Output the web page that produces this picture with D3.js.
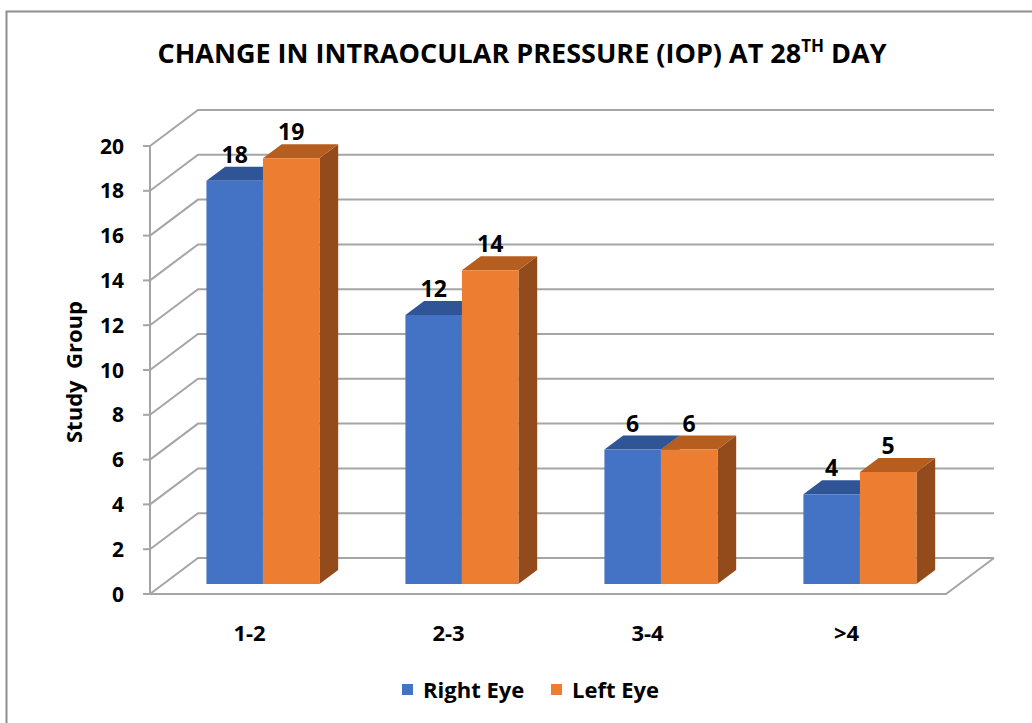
<!DOCTYPE html>
<html>
<head>
<meta charset="utf-8">
<script src="https://cdn.jsdelivr.net/npm/d3@7"></script>
<style>
  html, body { margin: 0; padding: 0; background: #fff; }
  svg { display: block; }
  text { font-family: "Open Sans", Lato, sans-serif; font-weight: bold; fill: #000; }
</style>
</head>
<body>
<svg id="chart" width="1032" height="723"></svg>
<script>
// ---- data ----
const categories = ["1-2", "2-3", "3-4", ">4"];
const seriesNames = ["Right Eye", "Left Eye"];
const rightEye = [18, 12, 6, 4];
const leftEye = [19, 14, 6, 5];
const yTicks = [0, 2, 4, 6, 8, 10, 12, 14, 16, 18, 20];

const colors = {
  "Right Eye": { front: "#4472C4", top: "#2F5597", side: "#2D5291" },
  "Left Eye":  { front: "#ED7D31", top: "#B55E20", side: "#944B1C" }
};
const gridColor = "#a5a5a5";

const svg = d3.select("#chart");

// border
svg.append("path")
  .attr("d", "M6.5,723 L6.5,11.5 L1032,11.5")
  .attr("fill", "none").attr("stroke", "#8e8e8e").attr("stroke-width", 2);

// ---- 3D geometry ----
const DX = 48, DY = 36;        // full depth offset of the plot box
const Z0 = 0.28, Z1 = 0.67;    // bar depth range
const y = d3.scaleLinear().domain([0, 20]).range([594, 146]);
const x0 = d3.scaleBand().domain(categories).range([150, 946]).paddingInner(0.432).paddingOuter(0.216);
const x1 = d3.scaleBand().domain(seriesNames).range([0, x0.bandwidth()]);
const xFull = d3.scaleBand().domain(categories).range([150, 946]);

const P = (xf, v, z) => [xf + z * DX, y(v) - z * DY];
const poly = pts => "M" + pts.map(p => p.join(",")).join("L") + "Z";

const grid = svg.append("g").attr("stroke", gridColor).attr("stroke-width", 2).attr("fill", "none");
// back wall lines and left wall diagonals
yTicks.forEach(v => {
  const a = P(150, v, 0), b = P(150, v, 1), c = P(946, v, 1);
  grid.append("path").attr("d", `M${a}L${b}L${c}`);
});
// floor
{
  const a = P(150, 0, 0), b = P(946, 0, 0), c = P(946, 0, 1);
  grid.append("path").attr("d", `M${a}L${b}L${c}`);
}
// front vertical axis + ticks
grid.append("line").attr("x1", 150).attr("x2", 150).attr("y1", y(0)).attr("y2", y(20));
yTicks.forEach(v => {
  grid.append("line").attr("x1", 143).attr("x2", 150).attr("y1", y(v)).attr("y2", y(v));
});

// y tick labels
svg.append("g").selectAll("text").data(yTicks).join("text")
  .attr("x", 124).attr("y", d => y(d)).attr("dy", "0.36em")
  .attr("text-anchor", "end").attr("font-size", 21).text(d => d);

// y axis title
svg.append("text")
  .attr("transform", "translate(82,372) rotate(-90)")
  .attr("text-anchor", "middle").attr("font-size", 22)
  .attr("textLength", 142).attr("lengthAdjust", "spacingAndGlyphs")
  .attr("xml:space", "preserve").text("Study  Group");

// category labels
svg.append("g").selectAll("text").data(categories).join("text")
  .attr("x", d => xFull(d) + xFull.bandwidth() / 2).attr("y", 641)
  .attr("text-anchor", "middle").attr("font-size", 22).text(d => d);

// ---- bars ----
const barData = [];
categories.forEach((c, i) => {
  barData.push({ cat: c, s: "Right Eye", v: rightEye[i] });
  barData.push({ cat: c, s: "Left Eye", v: leftEye[i] });
});
const bars = svg.append("g");
barData.forEach(d => {
  const xl = x0(d.cat) + x1(d.s), xr = xl + x1.bandwidth();
  const col = colors[d.s];
  // side
  bars.append("path").attr("fill", col.side)
    .attr("d", poly([P(xr, 0, Z0), P(xr, 0, Z1), P(xr, d.v, Z1), P(xr, d.v, Z0)]));
  // top
  bars.append("path").attr("fill", col.top)
    .attr("d", poly([P(xl, d.v, Z0), P(xl, d.v, Z1), P(xr, d.v, Z1), P(xr, d.v, Z0)]));
  // front
  bars.append("path").attr("fill", col.front)
    .attr("d", poly([P(xl, 0, Z0), P(xr, 0, Z0), P(xr, d.v, Z0), P(xl, d.v, Z0)]));
});
// data labels
svg.append("g").selectAll("text").data(barData).join("text")
  .attr("x", d => P(x0(d.cat) + x1(d.s) + x1.bandwidth() / 2, d.v, Z0)[0])
  .attr("y", d => P(0, d.v, Z0)[1] - 18)
  .attr("text-anchor", "middle").attr("font-size", 23).text(d => d.v);

// ---- title ----
const title = svg.append("text").attr("x", 522).attr("y", 63).attr("text-anchor", "middle").attr("font-size", 27);
title.append("tspan").text("CHANGE IN INTRAOCULAR PRESSURE (IOP) AT 28");
title.append("tspan").attr("font-size", 17).attr("dy", -11).text("TH");
title.append("tspan").attr("dy", 11).text(" DAY");

// ---- legend ----
const legend = svg.append("g");
const legendItems = [{ s: "Right Eye", x: 402 }, { s: "Left Eye", x: 551 }];
legendItems.forEach(it => {
  legend.append("rect").attr("x", it.x).attr("y", 684).attr("width", 11).attr("height", 11).attr("fill", colors[it.s].front);
  legend.append("text").attr("x", it.x + 21).attr("y", 698).attr("font-size", 22).text(it.s);
});
</script>
</body>
</html>
